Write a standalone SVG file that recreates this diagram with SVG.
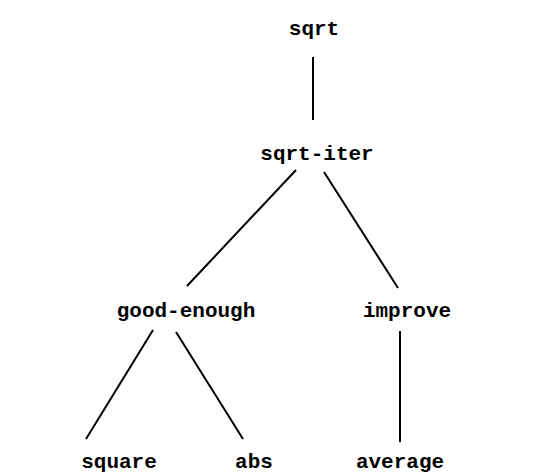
<svg xmlns="http://www.w3.org/2000/svg" width="554" height="475" viewBox="0 0 554 475">
<style>
text{font-family:"Liberation Mono","DejaVu Sans Mono",monospace;font-size:21px;font-weight:bold;fill:#000;text-anchor:middle}
.c line{stroke:#000;stroke-width:2;fill:none}
</style>
<rect width="554" height="475" fill="#fff"/>
<g class="c" id="connectors">
<line x1="313" y1="57" x2="313" y2="120"/>
<line x1="296" y1="170" x2="187" y2="286"/>
<line x1="324" y1="172" x2="398" y2="288"/>
<line x1="153" y1="330" x2="86" y2="439"/>
<line x1="176" y1="332" x2="243" y2="439"/>
<line x1="400" y1="331" x2="400" y2="442"/>
</g>
<g id="sqrt"><text x="314" y="35">sqrt</text></g>
<g id="sqrt-iter"><text x="317" y="160">sqrt-iter</text></g>
<g id="good-enough"><text x="186" y="317">good-enough</text></g>
<g id="improve"><text x="407" y="317">improve</text></g>
<g id="square"><text x="119" y="468">square</text></g>
<g id="abs"><text x="254" y="468">abs</text></g>
<g id="average"><text x="400" y="468">average</text></g>
</svg>
